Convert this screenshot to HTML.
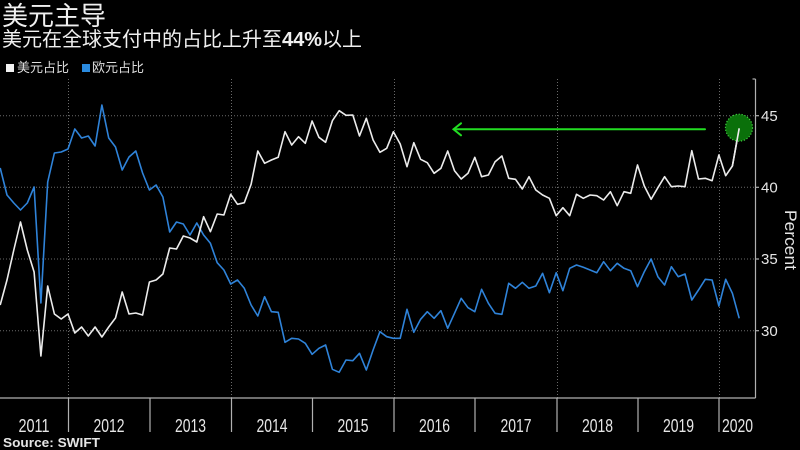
<!DOCTYPE html>
<html><head><meta charset="utf-8"><style>
html,body{margin:0;padding:0;background:#000;}
svg{display:block;}
</style></head><body>
<svg width="800" height="450" viewBox="0 0 800 450" xmlns="http://www.w3.org/2000/svg">
<rect width="800" height="450" fill="#000"/>
<text x="2" y="25" fill="#f0f0f0" font-family="'Liberation Sans','Noto Sans CJK SC',sans-serif" font-size="26">美元主导</text>
<text x="2" y="46" fill="#f0f0f0" font-family="'Liberation Sans','Noto Sans CJK SC',sans-serif" font-size="20">美元在全球支付中的占比上升至<tspan font-weight="bold">44%</tspan>以上</text>
<rect x="6" y="64" width="8" height="8" fill="#f2f2f2"/>
<text x="17" y="72" fill="#ddd" font-family="'Liberation Sans','Noto Sans CJK SC',sans-serif" font-size="13">美元占比</text>
<rect x="82" y="64" width="8" height="8" fill="#2a8be0"/>
<text x="92" y="72" fill="#ddd" font-family="'Liberation Sans','Noto Sans CJK SC',sans-serif" font-size="13">欧元占比</text>
<g stroke="#6a6a6a" stroke-width="1" stroke-dasharray="1,2">
<line x1="0" y1="115.7" x2="755" y2="115.7"/>
<line x1="0" y1="187.3" x2="755" y2="187.3"/>
<line x1="0" y1="259" x2="755" y2="259"/>
<line x1="0" y1="330.7" x2="755" y2="330.7"/>
<line x1="68.5" y1="79" x2="68.5" y2="398"/>
<line x1="231.5" y1="79" x2="231.5" y2="398"/>
<line x1="394.5" y1="79" x2="394.5" y2="398"/>
<line x1="557.5" y1="79" x2="557.5" y2="398"/>
<line x1="719.5" y1="79" x2="719.5" y2="398"/>
</g>
<g stroke="#b0b0b0" stroke-width="1.2" fill="none">
<line x1="0" y1="398" x2="755.5" y2="398"/>
<line x1="755.5" y1="79" x2="755.5" y2="398"/>
<line x1="752.5" y1="79" x2="755.5" y2="79"/>
<line x1="755.5" y1="115.7" x2="759" y2="115.7"/>
<line x1="755.5" y1="187.3" x2="759" y2="187.3"/>
<line x1="755.5" y1="259" x2="759" y2="259"/>
<line x1="755.5" y1="330.7" x2="759" y2="330.7"/>
<line x1="68.5" y1="398" x2="68.5" y2="432"/>
<line x1="150" y1="398" x2="150" y2="432"/>
<line x1="231.5" y1="398" x2="231.5" y2="432"/>
<line x1="312.5" y1="398" x2="312.5" y2="432"/>
<line x1="394" y1="398" x2="394" y2="432"/>
<line x1="475" y1="398" x2="475" y2="432"/>
<line x1="557" y1="398" x2="557" y2="432"/>
<line x1="638" y1="398" x2="638" y2="432"/>
<line x1="719" y1="398" x2="719" y2="432"/>
</g>
<g fill="#e6e6e6" font-family="'Liberation Sans',sans-serif" font-size="15">
<text x="761" y="121">45</text>
<text x="761" y="192.5">40</text>
<text x="761" y="264">35</text>
<text x="761" y="336">30</text>
</g>
<text transform="translate(785,210) rotate(90)" fill="#e6e6e6" font-family="'Liberation Sans',sans-serif" font-size="17" textLength="60" lengthAdjust="spacingAndGlyphs">Percent</text>
<g fill="#e6e6e6" font-family="'Liberation Sans',sans-serif" font-size="18" text-anchor="middle">
<text x="34" y="432" textLength="31" lengthAdjust="spacingAndGlyphs">2011</text>
<text x="109" y="432" textLength="31" lengthAdjust="spacingAndGlyphs">2012</text>
<text x="190.5" y="432" textLength="31" lengthAdjust="spacingAndGlyphs">2013</text>
<text x="272" y="432" textLength="31" lengthAdjust="spacingAndGlyphs">2014</text>
<text x="353" y="432" textLength="31" lengthAdjust="spacingAndGlyphs">2015</text>
<text x="434.5" y="432" textLength="31" lengthAdjust="spacingAndGlyphs">2016</text>
<text x="516" y="432" textLength="31" lengthAdjust="spacingAndGlyphs">2017</text>
<text x="597.5" y="432" textLength="31" lengthAdjust="spacingAndGlyphs">2018</text>
<text x="678.5" y="432" textLength="31" lengthAdjust="spacingAndGlyphs">2019</text>
<text x="737.5" y="432" textLength="31" lengthAdjust="spacingAndGlyphs">2020</text>
</g>
<text x="3" y="447" fill="#e6e6e6" font-family="'Liberation Sans',sans-serif" font-size="13" font-weight="bold" textLength="97" lengthAdjust="spacingAndGlyphs">Source: SWIFT</text>
<polyline fill="none" stroke="#2f83d9" stroke-width="1.6" stroke-linejoin="round" points="0.2,168 7.0,195 13.8,203 20.5,210 27.3,203 34.1,187 40.9,303 47.7,182 54.4,153 61.2,152 68.0,149 74.8,129 81.6,138 88.3,136 95.1,146 101.9,105 108.7,138 115.5,147 122.2,170 129.0,157 135.8,151 142.6,173 149.4,190 156.1,185 162.9,197 169.7,232 176.5,222 183.3,224 190.0,235 196.8,223 203.6,235 210.4,243.3 217.2,262.7 223.9,270 230.7,284 237.5,280 244.3,288.3 251.1,305 257.8,316 264.6,296.7 271.4,311.7 278.2,312.3 285.0,342.3 291.7,338.3 298.5,339 305.3,343.3 312.1,354.3 318.9,348.3 325.6,345 332.4,369.3 339.2,372.3 346.0,360 352.8,360.7 359.5,353.3 366.3,370 373.1,350 379.9,331.7 386.7,336.7 393.4,338.3 400.2,338.3 407.0,309.3 413.8,332.3 420.6,319.3 427.3,311.7 434.1,318.3 440.9,310.7 447.7,328.3 454.5,313.3 461.2,298.3 468.0,307.7 474.8,311.7 481.6,289.3 488.4,303.3 495.1,313.3 501.9,314.3 508.7,283.3 515.5,288.3 522.3,282.3 529.0,288.3 535.8,286 542.6,273.3 549.4,292.7 556.2,272.7 562.9,290.7 569.7,268.3 576.5,265 583.3,267.3 590.1,270 596.8,272.7 603.6,261.7 610.4,270.7 617.2,263.3 624.0,268.3 630.7,270.7 637.5,286.7 644.3,271.7 651.1,259 657.9,276.7 664.6,285 671.4,266.7 678.2,276.7 685.0,274 691.8,300 698.5,290 705.3,279.3 712.1,280 718.9,306 725.7,279.3 732.4,293.3 739.2,318.3"/>
<polyline fill="none" stroke="#ececec" stroke-width="1.6" stroke-linejoin="round" points="0.2,305 7.0,280 13.8,250 20.5,222 27.3,250 34.1,272 40.9,356 47.7,286 54.4,314 61.2,319 68.0,314 74.8,333 81.6,327 88.3,336 95.1,327 101.9,337 108.7,327 115.5,318 122.2,292 129.0,314 135.8,313 142.6,315 149.4,282 156.1,280 162.9,274 169.7,248 176.5,249 183.3,236 190.0,238 196.8,242 203.6,216.7 210.4,231.7 217.2,214 223.9,215 230.7,194.3 237.5,204.3 244.3,202.7 251.1,184.3 257.8,151 264.6,163.3 271.4,160 278.2,157.3 285.0,131.7 291.7,145 298.5,136.7 305.3,143.3 312.1,121 318.9,137.3 325.6,142.3 332.4,120.7 339.2,110.7 346.0,115.3 352.8,115 359.5,136 366.3,118.3 373.1,140 379.9,152.3 386.7,148.3 393.4,131.7 400.2,144 407.0,166.7 413.8,142.7 420.6,159.3 427.3,162.7 434.1,173.3 440.9,168.3 447.7,151 454.5,170.7 461.2,179 468.0,173.3 474.8,157.3 481.6,176.7 488.4,175 495.1,161.7 501.9,156 508.7,178.3 515.5,179.3 522.3,189 529.0,176.7 535.8,190 542.6,195 549.4,198.3 556.2,215.7 562.9,207.7 569.7,215.7 576.5,194.3 583.3,198.3 590.1,195 596.8,195.7 603.6,200 610.4,191.7 617.2,205.7 624.0,191.7 630.7,193.3 637.5,165 644.3,186 651.1,199.3 657.9,187.7 664.6,176.7 671.4,186.7 678.2,186 685.0,186.7 691.8,150.7 698.5,179 705.3,178.3 712.1,180.7 718.9,155 725.7,175.7 732.4,166 739.2,128.3"/>
<g stroke="#22dd22" stroke-width="2" fill="none" stroke-linecap="round">
<line x1="454" y1="129.3" x2="705" y2="129.3"/>
<polyline points="461,123.3 453.5,129.3 461,135.3"/>
</g>
<circle cx="739" cy="127.7" r="13.5" fill="#0b7c0b" fill-opacity="0.9" stroke="#3fd13f" stroke-width="1.2" stroke-dasharray="1.2,1.8"/>
<line x1="739.2" y1="128.3" x2="732.4" y2="166" stroke="#ececec" stroke-width="1.6"/>
</svg>
</body></html>
